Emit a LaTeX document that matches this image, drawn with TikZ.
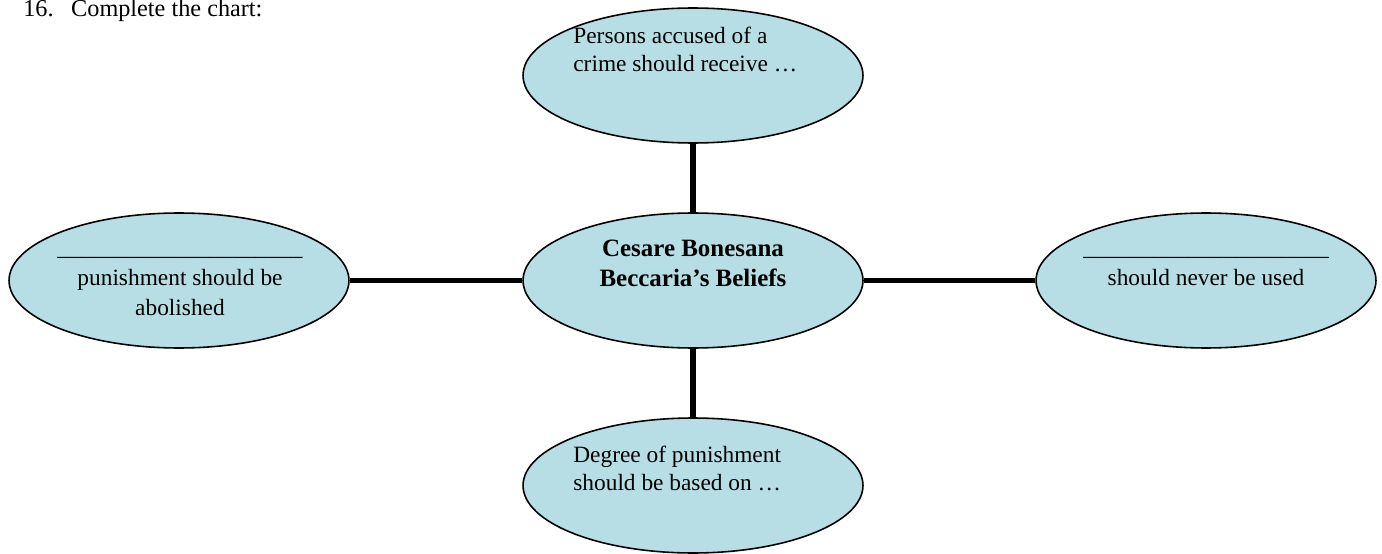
\documentclass[tikz,border=0pt]{standalone}
\usepackage{fontspec}
\setmainfont{Liberation Serif}
\usetikzlibrary{shapes.geometric}
\definecolor{bubble}{RGB}{183,222,228}

\begin{document}
\begin{tikzpicture}[x=0.02cm,y=-0.02cm,
    belief/.style={ellipse,draw=black,line width=0.9pt,fill=bubble,
      minimum width=6.8cm,minimum height=2.7cm,inner sep=0pt},
    link/.style={line width=3.4pt},
    words/.style={font=\fontsize{13.3}{16}\selectfont,inner sep=0pt}]

  \useasboundingbox (0,0) rectangle (1382,554);

  \node[words,font=\fontsize{13.8}{16}\selectfont,anchor=base west] (title) at (23,17) {16.\hspace{10pt}Complete the chart:};

  % the five bubbles
  \foreach \name/\pos in {core/{(693,280.5)},up/{(693,75.5)},down/{(693,485.5)},
      west/{(179,280.5)},east/{(1206,280.5)}}{
    \node[belief] (\name) at \pos {};
  }

  % spokes from the middle
  \foreach \spoke in {up,down,west,east}{
    \draw[link] (core) -- (\spoke);
  }

  \node[words,font=\fontsize{14.2}{17}\selectfont\bfseries,align=center,anchor=north]
    (coretext) at (693,240) {Cesare Bonesana\\Beccaria’s Beliefs};
  \node[words,align=left,anchor=north west] (uptext) at (573,27)
    {Persons accused of a\\crime should receive …};
  \node[words,align=left,anchor=north west] (downtext) at (573,446)
    {Degree of punishment\\should be based on …};
  \node[words,font=\fontsize{13.3}{17}\selectfont,align=center,anchor=north] (westtext) at (180,255)
    {\_\_\_\_\_\_\_\_\_\_\_\_\_\_\_\_\_\_\_\_\_\\punishment should be\\abolished};
  \node[words,font=\fontsize{13.3}{17}\selectfont,align=center,anchor=north] (easttext) at (1206,255)
    {\_\_\_\_\_\_\_\_\_\_\_\_\_\_\_\_\_\_\_\_\_\\should never be used};

\end{tikzpicture}
\end{document}
